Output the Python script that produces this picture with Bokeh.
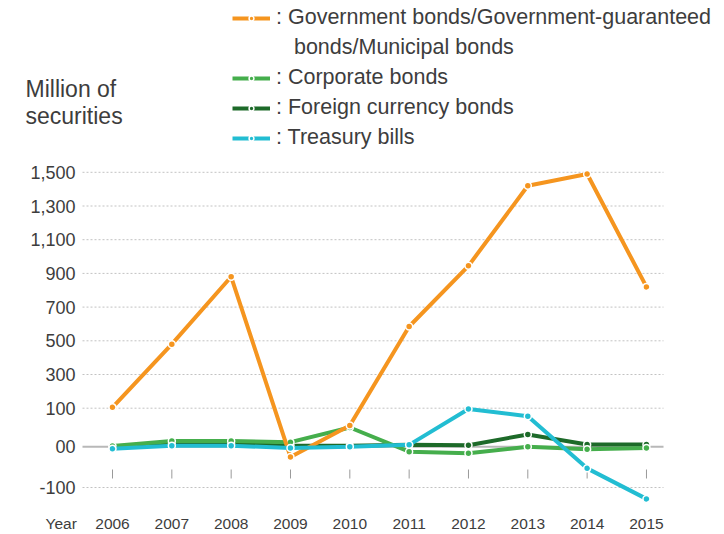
from bokeh.plotting import figure
from bokeh.models import Range1d, Label, Legend, LegendItem
from bokeh.embed import file_html
from bokeh.resources import INLINE
from bokeh.core.properties import value
import numpy as np

# ---------------- data ----------------
years = [2006, 2007, 2008, 2009, 2010, 2011, 2012, 2013, 2014, 2015]
year_labels = [str(y) for y in years]
gov_bonds = [105, 480, 880, -25, 55, 585, 945, 1420, 1490, 820]
corporate = [2, 15, 15, 12, 50, -12, -16, 0, -6, -3]
foreign_ccy = [0, 8, 8, 3, 3, 5, 4, 32, 6, 6]
treasury = [-5, 3, 3, -3, 0, 5, 98, 79, -53, -128]

ytick_values = [-100, 0, 100, 300, 500, 700, 900, 1100, 1300, 1500]
ytick_labels = ["-100", "00", "100", "300", "500", "700", "900", "1,100", "1,300", "1,500"]

series_names = [": Government bonds/Government-guaranteed",
                ": Corporate bonds",
                ": Foreign currency bonds",
                ": Treasury bills"]
second_line = "\u00a0\u00a0\u00a0bonds/Municipal bonds"
colors = ["#F5951F", "#45AE4C", "#1D6A29", "#22BDD2"]

FONT = "Liberation Sans"
TXT = "#3d3d3d"


# broken value axis: -100..100 expanded, 100..1500 compressed (as in the original)
def to_axis(v):
    v = np.asarray(v, dtype=float)
    return np.where(v < 0, v * 4.07,
                    np.where(v <= 100, v * 3.86, 386 + (v - 100) * 337 / 200))


tick_pos = [float(t) for t in to_axis(ytick_values)]

# ---------------- figure geometry ----------------
W, H = 724, 534
PX_YEAR = 59.33          # pixels per year
X_2006 = 112             # pixel of 2006
ZERO_PX = 446.3          # pixel row of value 0


def page_x(px):
    return 2006 + (px - X_2006) / PX_YEAR


def page_y(py):
    return (ZERO_PX - py) * 10


p = figure(width=W, height=H, output_backend="svg", toolbar_location=None,
           x_range=Range1d(page_x(0), page_x(W)), y_range=Range1d(page_y(H), page_y(0)),
           x_axis_location=None, y_axis_location=None,
           min_border=0)
p.outline_line_color = None
p.grid.grid_line_color = None
p.background_fill_color = "white"
p.border_fill_color = "white"

plot_left, plot_right = page_x(82), page_x(663)
n_t = len(tick_pos)

# dotted grid lines
grid_ticks = [t for t in tick_pos if t != 0]
p.segment(x0=[plot_left] * len(grid_ticks), x1=[plot_right] * len(grid_ticks),
          y0=grid_ticks, y1=grid_ticks, line_color="#c2c2c2", line_dash="2 2", line_width=1)
# zero line
p.segment(x0=[plot_left], x1=[plot_right], y0=[0], y1=[0], line_color="#b8b8b8", line_width=2)

# y tick labels
p.text(x=[page_x(75)] * n_t, y=tick_pos, text=ytick_labels, text_align="right",
       text_baseline="middle", text_font=value(FONT), text_font_size="18px", text_color=TXT)

# small tick marks under the zero line
p.segment(x0=years, y0=page_y(469), x1=years, y1=page_y(478),
          line_color="#9a9a9a", line_width=1)

# year labels
p.text(x=years, y=page_y(523), text=year_labels, text_align="center",
       text_baseline="middle", text_font=value(FONT), text_font_size="15.5px",
       text_color=TXT)

# ---------------- series ----------------
order = [2, 1, 0, 3]
data = [gov_bonds, corporate, foreign_ccy, treasury]
rend = {}
for i in order:
    ys = to_axis(data[i])
    l = p.line(years, ys, line_color=colors[i], line_width=4)
    s = p.scatter(years, ys, size=7, fill_color=colors[i], line_color="white", line_width=1.5)
    rend[i] = [l, s]

dummy = p.line([], [], line_alpha=0)

items = [LegendItem(label=series_names[0], renderers=rend[0]),
         LegendItem(label=second_line, renderers=[dummy]),
         LegendItem(label=series_names[1], renderers=rend[1]),
         LegendItem(label=series_names[2], renderers=rend[2]),
         LegendItem(label=series_names[3], renderers=rend[3])]
legend = Legend(items=items, location=(232, H - 150), orientation="vertical",
                padding=0, margin=0, spacing=5, glyph_width=38, glyph_height=12,
                label_height=20, label_standoff=6, label_text_font=FONT,
                label_text_font_size="21.5px", label_text_color=TXT,
                border_line_color=None, background_fill_alpha=0)
p.add_layout(legend)

p.add_layout(Label(x=page_x(25), y=page_y(88), text="Million of", text_font=FONT,
                   text_font_size="23px", text_color=TXT, text_baseline="middle"))
p.add_layout(Label(x=page_x(25), y=page_y(115.5), text="securities", text_font=FONT,
                   text_font_size="23px", text_color=TXT, text_baseline="middle"))
p.add_layout(Label(x=page_x(45), y=page_y(523), text="Year", text_font=FONT,
                   text_font_size="15.5px", text_color=TXT, text_baseline="middle"))

open("out.html", "w").write(file_html(p, INLINE))
